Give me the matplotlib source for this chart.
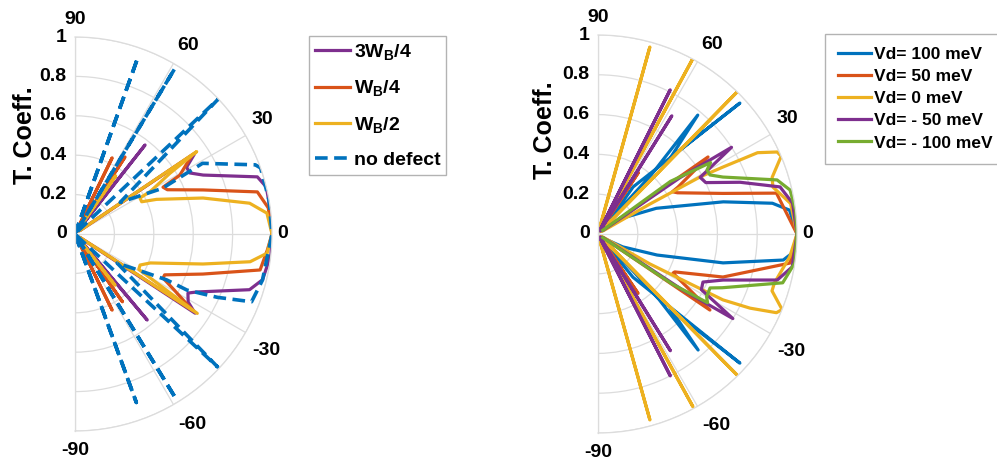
import numpy as np
import matplotlib.pyplot as plt

plt.rcParams['font.family'] = ['Liberation Sans', 'DejaVu Sans']
plt.rcParams['font.weight'] = 'bold'
plt.rcParams['mathtext.fontset'] = 'custom'
plt.rcParams['mathtext.rm'] = 'Liberation Sans:bold'
plt.rcParams['mathtext.bf'] = 'Liberation Sans:bold'
plt.rcParams['mathtext.it'] = 'Liberation Sans:bold'

# ---- left panel: defect width (angle in deg, transmission) ----
th_3wb4 = [-52, -50, -48, -36, -33.4, -31, -27.6, -25.4, -17.7, -13.7, -6, 0,
           6, 13.8, 17.4, 24.7, 28, 30.9, 34, 35.5, 50, 51.8, 53]
T_3wb4 = [0.02, 0.57, 0.03, 0.03, 0.73, 0.67, 0.647, 0.686, 0.93, 0.98, 1.0, 1.0,
          1.0, 1.0, 0.97, 0.716, 0.66, 0.66, 0.735, 0.03, 0.03, 0.575, 0.02]

th_wb4 = [-65, -64, -63, -56, -55, -54, -35, -33, -29.5, -26.6, -24.5, -17.4, -11, -4.7, 0,
          7.7, 13, 19, 25.6, 28, 29.3, 34, 35.5, 56, 57, 58, 63, 64, 65]
T_wb4 = [0.02, 0.43, 0.02, 0.02, 0.42, 0.02, 0.03, 0.71, 0.58, 0.50, 0.50, 0.68, 0.957, 0.98, 1.0,
         0.99, 0.95, 0.687, 0.52, 0.506, 0.61, 0.716, 0.03, 0.02, 0.466, 0.02, 0.02, 0.43, 0.02]

th_wb2 = [-53, -52, -51, -35, -33, -29, -25.5, -21, -13.2, -9, -5.7, 0,
          6.2, 10, 15.7, 23, 25.8, 29, 29.4, 32.6, 34.1, 35.5, 54, 55, 56]
T_wb2 = [0.02, 0.33, 0.02, 0.03, 0.74, 0.37, 0.366, 0.41, 0.667, 0.9, 0.98, 1.0,
         0.98, 0.90, 0.675, 0.45, 0.376, 0.377, 0.437, 0.572, 0.746, 0.03, 0.02, 0.36, 0.02]

th_nodef = [-70, -70, -70, -58.5, -58.5, -58.5, -44.5, -43, -34.6, -30, -26.6, -26.6, -24, -21, -13.8, 0,
            10, 19.6, 21, 29, 27.6, 35, 43.3, 45.5, 58.9, 58.9, 58.9, 70.4, 70.4, 70.4]
T_nodef = [0.0, 0.91, 0.0, 0.0, 0.98, 0.0, 0.02, 0.99, 0.26, 0.36, 0.52, 0.636, 0.79, 0.96, 0.98, 1.0,
           1.0, 1.0, 0.98, 0.74, 0.50, 0.28, 1.0, 0.02, 0.0, 0.98, 0.0, 0.0, 0.95, 0.0]

# ---- right panel: defect potential ----
th_p100 = [-55, -51, -42.3, -44, -45.8, -49.2, -47, -40, -27.5, -19.6, -13, -8, -4.6, 0,
           7.1, 10, 14.4, 23.8, 32.6, 38, 53.3, 42.7, 46.5, 50, 48, 55]
T_p100 = [0.02, 0.28, 0.964, 0.70, 0.52, 0.77, 0.45, 0.03, 0.14, 0.315, 0.645, 0.94, 1.0, 1.0,
          0.97, 0.89, 0.65, 0.32, 0.15, 0.03, 0.295, 0.97, 0.53, 0.78, 0.40, 0.02]

th_p50 = [-57, -56, -55, -36, -34.2, -27.5, -26.3, -19, -8.6, 0,
          12.9, 18, 27.4, 29.6, 30.4, 35, 36.5, 55.7, 56.7, 57.7]
T_p50 = [0.02, 0.36, 0.02, 0.03, 0.68, 0.425, 0.43, 0.664, 0.976, 1.0,
         0.92, 0.66, 0.45, 0.43, 0.466, 0.675, 0.03, 0.02, 0.37, 0.02]

th_0 = [-76, -74.4, -73, -62.5, -61.2, -60, -47, -45.4, -44, -32, -30, -27.8, -26, -23.8, -22.3,
        -18.1, -15.5, -6.8, 0, 9, 15, 18, 23, 24.6, 27, 28.2, 29.2, 30, 32,
        44, 45.6, 47, 60.3, 61.6, 63, 73, 74.5, 76]
T_0 = [0.02, 0.97, 0.02, 0.02, 0.99, 0.02, 0.02, 0.995, 0.02, 0.03, 0.30, 0.71, 0.85, 0.98, 1.0,
       0.92, 0.92, 0.97, 1.0, 0.98, 0.91, 0.92, 1.0, 0.99, 0.90, 0.71, 0.59, 0.30, 0.03,
       0.02, 1.0, 0.02, 0.02, 1.0, 0.02, 0.02, 0.975, 0.02]

th_m50 = [-64.5, -63, -61.5, -59.5, -58.2, -57, -35, -33.5, -32.1, -28.3, -24.6, -20.2, -14.4, -9.6, 0,
          9, 14.5, 20, 25.5, 29, 33, 34.5, 36, 57, 58, 59.5, 62, 63.4, 65]
T_m50 = [0.02, 0.80, 0.02, 0.02, 0.69, 0.02, 0.03, 0.5, 0.80, 0.59, 0.58, 0.67, 0.93, 0.99, 1.0,
         0.99, 0.945, 0.76, 0.60, 0.587, 0.80, 0.5, 0.03, 0.02, 0.70, 0.02, 0.02, 0.81, 0.02]

th_m100 = [-37, -34, -32.1, -30, -25.7, -23.4, -14.8, -8.3, 0,
           6.9, 12.9, 16.8, 24.5, 27.8, 30.4, 32.4, 36, 38]
T_m100 = [0.03, 0.45, 0.65, 0.63, 0.625, 0.68, 0.96, 1.0, 1.0,
          1.0, 0.99, 0.94, 0.69, 0.636, 0.635, 0.67, 0.45, 0.03]

left_labels = ['$\\mathbf{3W_B/4}$', '$\\mathbf{W_B/4}$', '$\\mathbf{W_B/2}$', 'no defect']
right_labels = ['Vd= 100 meV', 'Vd= 50 meV', 'Vd= 0 meV', 'Vd= - 50 meV', 'Vd= - 100 meV']
r_ticks = [0, 0.2, 0.4, 0.6, 0.8, 1]
r_ticklabels = ['0', '0.2', '0.4', '0.6', '0.8', '1']
theta_ticks = [-90, -60, -30, 0, 30, 60, 90]
# where each angle label sits relative to the rim (pixels)
theta_label_off = [(0, -19.5), (19, -19.5), (20.5, -18), (11, 1), (17, 16), (15, 17.5), (0, 18)]

blue = '#0072BD'
orange = '#D95319'
yellow = '#EDB120'
purple = '#7E2F8E'
green = '#77AC30'
gridc = '#dcdcdc'


def setup(ax):
    ax.set_thetamin(-90)
    ax.set_thetamax(90)
    ax.set_ylim(0, 1)
    ax.set_yticks([0.2, 0.4, 0.6, 0.8, 1.0])
    ax.set_yticklabels([])
    ax.set_thetagrids(theta_ticks, labels=[''] * len(theta_ticks))
    ax.grid(True, color=gridc, lw=0.9)
    for s in ax.spines.values():
        s.set_color(gridc)
        s.set_linewidth(0.9)
    for t, off in zip(theta_ticks, theta_label_off):
        ax.annotate(str(t), xy=(np.deg2rad(t), 1), xytext=off, textcoords='offset pixels',
                    ha='center', va='center', fontsize=14, fontweight='bold', annotation_clip=False)
    for r, lab in zip(r_ticks, r_ticklabels):
        ax.annotate(lab, xy=(np.pi / 2, r), xytext=(-6, 0), textcoords='offset points',
                    ha='right', va='center', fontsize=14, fontweight='bold', annotation_clip=False)


fig = plt.figure(figsize=(9.97, 4.66), dpi=100)
# half-disc polar axes: the square box is 2R wide, wedge sits in its middle
R1, x1, y1 = 197, 75, 234
R2, x2, y2 = 199, 598, 234
ax1 = fig.add_axes([(x1 - R1 / 2) / 997, (466 - y1 - R1) / 466, 2 * R1 / 997, 2 * R1 / 466], projection='polar')
ax2 = fig.add_axes([(x2 - R2 / 2) / 997, (466 - y2 - R2) / 466, 2 * R2 / 997, 2 * R2 / 466], projection='polar')
setup(ax1)
setup(ax2)

lw = 2.3
ax1.plot(np.deg2rad(th_3wb4), T_3wb4, color=purple, lw=lw, label=left_labels[0])
ax1.plot(np.deg2rad(th_wb4), T_wb4, color=orange, lw=lw, label=left_labels[1])
ax1.plot(np.deg2rad(th_wb2), T_wb2, color=yellow, lw=lw, label=left_labels[2])
ax1.plot(np.deg2rad(th_nodef), T_nodef, color=blue, lw=2.6, ls=(0, (3.5, 1.8)), label=left_labels[3])

ax2.plot(np.deg2rad(th_p100), T_p100, color=blue, lw=lw, label=right_labels[0])
ax2.plot(np.deg2rad(th_p50), T_p50, color=orange, lw=lw, label=right_labels[1])
ax2.plot(np.deg2rad(th_0), T_0, color=yellow, lw=lw, label=right_labels[2])
ax2.plot(np.deg2rad(th_m50), T_m50, color=purple, lw=lw, label=right_labels[3])
ax2.plot(np.deg2rad(th_m100), T_m100, color=green, lw=lw, label=right_labels[4])

fig.text(25 / 997, 1 - 135 / 466, 'T. Coeff.', rotation=90, ha='center', va='center', fontsize=18, fontweight='bold')
fig.text(545 / 997, 1 - 130 / 466, 'T. Coeff.', rotation=90, ha='center', va='center', fontsize=18, fontweight='bold')

leg1 = ax1.legend(loc='upper left', bbox_to_anchor=(309 / 997, 1 - 36 / 466), bbox_transform=fig.transFigure,
                  fontsize=14, frameon=True, fancybox=False, edgecolor='#a0a0a0', borderaxespad=0,
                  handlelength=1.8, labelspacing=0.85, handletextpad=0.2, borderpad=0.3)
leg1.get_frame().set_linewidth(1.0)
leg2 = ax2.legend(loc='upper left', bbox_to_anchor=(825 / 997, 1 - 34 / 466), bbox_transform=fig.transFigure,
                  fontsize=12.5, frameon=True, fancybox=False, edgecolor='#a0a0a0', borderaxespad=0,
                  handlelength=1.9, labelspacing=0.4, handletextpad=0.2, borderpad=0.75)
leg2.get_frame().set_linewidth(1.0)

fig.savefig('out.png', dpi=100)
